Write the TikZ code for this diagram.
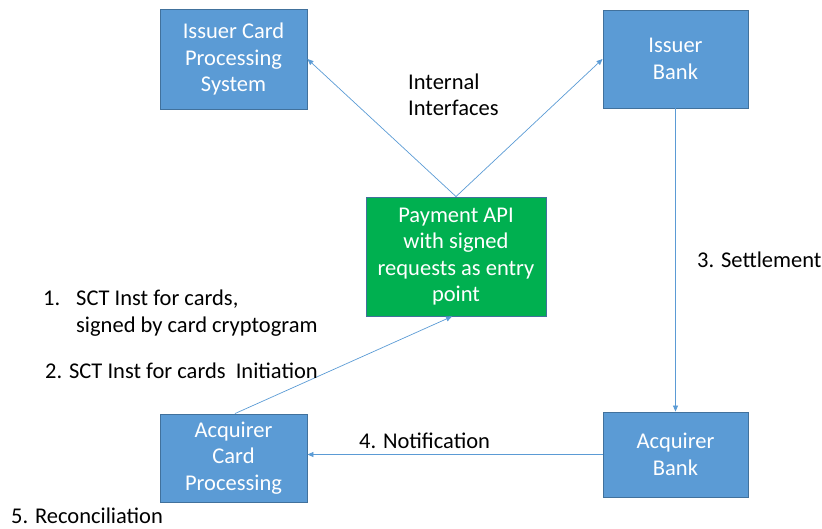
\documentclass[tikz,border=0pt]{standalone}
\usepackage{fontspec}
\setmainfont{Carlito}
\usetikzlibrary{arrows.meta}
\definecolor{boxblue}{HTML}{5B9BD5}
\definecolor{boxedge}{HTML}{41719C}
\definecolor{apigreen}{HTML}{00B050}
\definecolor{linkblue}{HTML}{5B9BD5}
\begin{document}
\begin{tikzpicture}[x=1pt,y=-1pt,
  font=\fontsize{22.5}{26.5}\selectfont,
  sysbox/.style={draw=boxedge, line width=0.9pt, fill=boxblue, text=white,
    align=center, inner sep=0pt},
  apibox/.style={sysbox, fill=apigreen},
  link/.style={draw=linkblue, line width=0.7pt,
    -{Triangle[length=6pt,width=5pt]}},
  lbl/.style={anchor=base west, inner sep=0pt, text=black}]
\useasboundingbox (0,0) rectangle (822,528);

% systems
\node[sysbox, minimum width=147pt, minimum height=100pt] (icps) at (233.5,59)
  {Issuer Card\\Processing\\System};
\node[sysbox, minimum width=145pt, minimum height=98pt] (ib) at (675.5,59)
  {Issuer\\Bank};
\node[apibox, minimum width=180pt, minimum height=119pt] (api) at (456,256.5)
  {Payment API\\with signed\\requests as entry\\point};
\node[sysbox, minimum width=147pt, minimum height=88pt] (acp) at (233.5,458)
  {Acquirer\\Card\\Processing};
\node[sysbox, minimum width=145pt, minimum height=85pt] (ab) at (675.5,454.5)
  {Acquirer\\Bank};

% connectors
\coordinate (apitop) at (api.north);
\draw[link] (apitop) -- (icps.east);
\draw[link] (apitop) -- (ib.west);
\draw[link] (ib.south) -- (ab.north);
\draw[link] (ab.west) -- (acp.east |- ab.west);
\draw[link] ([xshift=1.5pt]acp.north) -- ([xshift=-4pt]api.south);

% labels
\node[lbl] (ii1) at (408,89) {Internal};
\node[lbl] (ii2) at (408,115) {Interfaces};
\node[lbl] (n1) at (43,305) {1.};
\node[lbl] (s1a) at (76,305) {SCT Inst for cards,};
\node[lbl] (s1b) at (76,332) {signed by card cryptogram};
\node[lbl] (s2) at (45,378) {2. SCT Inst for cards\ \ Initiation};
\node[lbl] (s3) at (697,267) {3. Settlement};
\node[lbl] (s4) at (359,448) {4. Notification};
\node[lbl] (s5) at (11,523.5) {5. Reconciliation};
\end{tikzpicture}
\end{document}
